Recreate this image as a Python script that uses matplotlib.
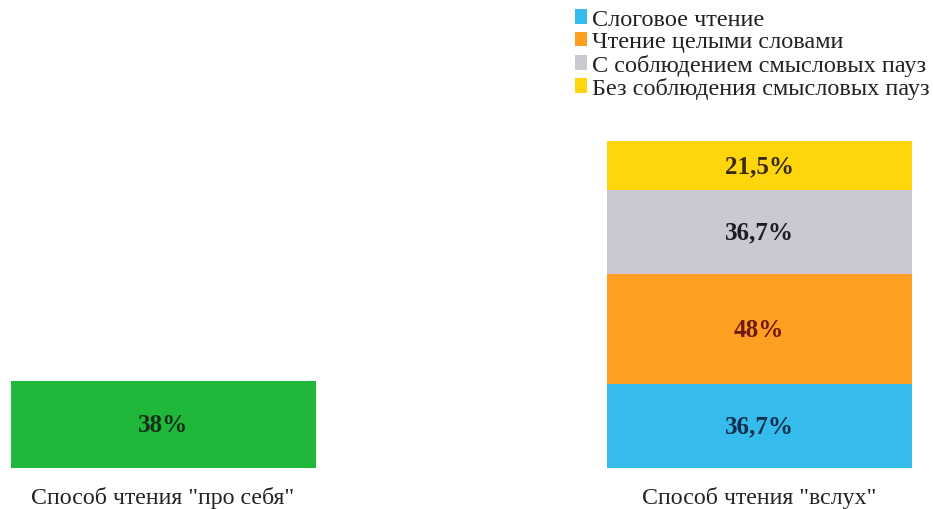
import matplotlib
matplotlib.use("Agg")
import matplotlib.pyplot as plt
from matplotlib.patches import Patch

# Data
categories = ['Способ чтения "про себя"', 'Способ чтения "вслух"']
silent_value = [38]
aloud_series = ["Слоговое чтение", "Чтение целыми словами",
                "С соблюдением смысловых пауз", "Без соблюдения смысловых пауз"]
aloud_values = [36.7, 48, 36.7, 21.5]

green = "#20B83A"
series_colors = ["#35BBEC", "#FF9F22", "#CBC8D2", "#FFD60C"]
label_colors = ["#12304E", "#6E1A12", "#1C1C28", "#3A2A10"]
green_label_color = "#163018"

plt.rcParams['font.family'] = ['Liberation Serif', 'DejaVu Serif']

fig = plt.figure(figsize=(9.33, 5.10), dpi=100)
ax = fig.add_axes([0, 41/510, 1, 366/510])
ax.set_xlim(-163/596, (933-163)/596)
ax.set_ylim(0, 160)

width = 305/596
b = ax.bar([0], silent_value, width=width, color=green)
ax.bar_label(b, labels=[f"{v:g}%".replace('.', ',') for v in silent_value],
             label_type='center', fontsize=18, fontweight='bold',
             color=green_label_color)

bottom = 0
handles = []
for name, v, c, lc in zip(aloud_series, aloud_values, series_colors, label_colors):
    bb = ax.bar([1], [v], bottom=bottom, width=width, color=c)
    ax.bar_label(bb, labels=[f"{v:g}%".replace('.', ',')], label_type='center',
                 fontsize=18, fontweight='bold', color=lc)
    bottom += v
    handles.append(Patch(facecolor=c, label=name))

for s in ax.spines.values():
    s.set_visible(False)
ax.set_yticks([])
ax.set_xticks([0, 1])
ax.set_xticklabels(categories, fontsize=17.2, color="#222222")
ax.tick_params(axis='x', length=0, pad=13)

leg = fig.legend(handles=handles, loc='upper left',
                 bbox_to_anchor=(575/933, 1 - 10/510), bbox_transform=fig.transFigure,
                 frameon=False, fontsize=17.5, handlelength=0.5, handleheight=0.55,
                 handletextpad=0.2, labelspacing=0.06, borderpad=0, borderaxespad=0)
for txt in leg.get_texts():
    txt.set_color("#222222")

fig.savefig("out.png", dpi=100)
